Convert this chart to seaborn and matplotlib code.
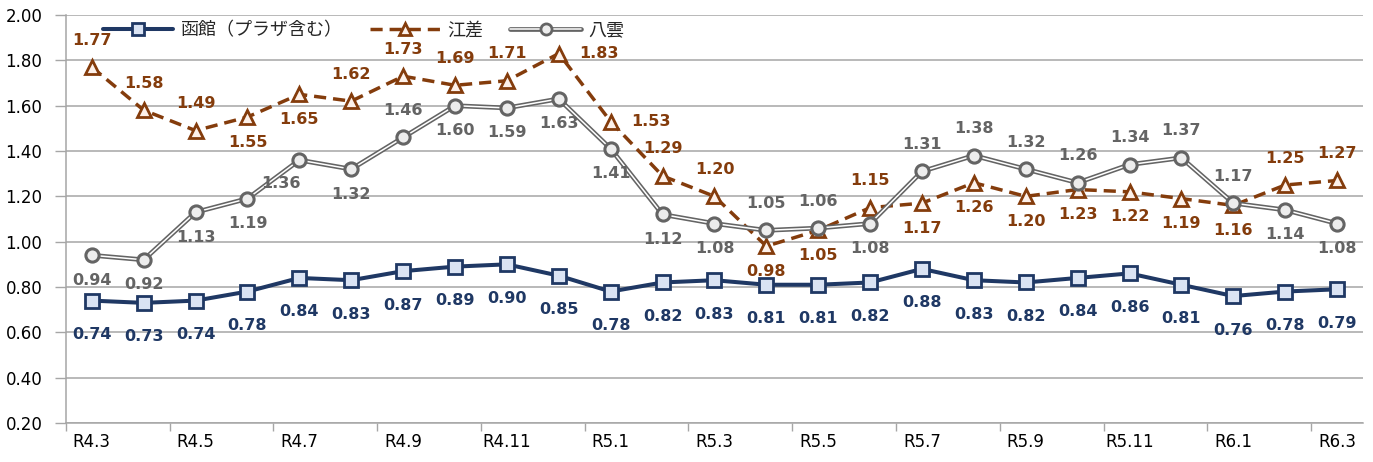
import numpy as np
import pandas as pd
import matplotlib
matplotlib.use("Agg")
import matplotlib.pyplot as plt
import seaborn as sns
from matplotlib.lines import Line2D

# 月（令和）
months = ["R4.3", "R4.4", "R4.5", "R4.6", "R4.7", "R4.8", "R4.9", "R4.10", "R4.11", "R4.12",
          "R5.1", "R5.2", "R5.3", "R5.4", "R5.5", "R5.6", "R5.7", "R5.8", "R5.9", "R5.10",
          "R5.11", "R5.12", "R6.1", "R6.2", "R6.3"]

hakodate = [0.74, 0.73, 0.74, 0.78, 0.84, 0.83, 0.87, 0.89, 0.90, 0.85, 0.78, 0.82, 0.83,
            0.81, 0.81, 0.82, 0.88, 0.83, 0.82, 0.84, 0.86, 0.81, 0.76, 0.78, 0.79]
esashi = [1.77, 1.58, 1.49, 1.55, 1.65, 1.62, 1.73, 1.69, 1.71, 1.83, 1.53, 1.29, 1.20,
          0.98, 1.05, 1.15, 1.17, 1.26, 1.20, 1.23, 1.22, 1.19, 1.16, 1.25, 1.27]
yakumo = [0.94, 0.92, 1.13, 1.19, 1.36, 1.32, 1.46, 1.60, 1.59, 1.63, 1.41, 1.12, 1.08,
          1.05, 1.06, 1.08, 1.31, 1.38, 1.32, 1.26, 1.34, 1.37, 1.17, 1.14, 1.08]

# ラベルの置き場所 (a=上, b=下, r=右, bl=左下)
esashi_pos = ["a", "a", "a", "b", "b", "a", "a", "a", "a", "r", "r", "a", "a",
              "b", "b", "a", "b", "b", "b", "b", "b", "b", "b", "a", "a"]
yakumo_pos = ["b", "b", "b", "b", "bl", "b", "a", "b", "b", "b", "b", "b", "b",
              "a", "a", "b", "a", "a", "a", "a", "a", "a", "a", "b", "b"]
offsets = {"a": (0, 27), "b": (0, -25), "r": (40, 0), "bl": (-18, -23), "nb": (0, -34)}

df = pd.DataFrame({"i": np.arange(len(months)), "month": months,
                   "hakodate": hakodate, "esashi": esashi, "yakumo": yakumo})

NAVY = "#1F3864"
BROWN = "#843C0C"
GRAY = "#646464"
GRID = "#A6A6A6"

sns.set_theme(style="white")
plt.rcParams["font.family"] = ["DejaVu Sans", "Noto Sans CJK JP"]

fig, ax = plt.subplots(figsize=(13.73, 4.62), dpi=100)
fig.subplots_adjust(left=0.048, right=0.9927, bottom=0.0844, top=0.9675)

sns.lineplot(data=df, x="i", y="hakodate", ax=ax, color=NAVY, lw=2.9, marker="s",
             markersize=9.5, markerfacecolor="#DAE3F3", markeredgecolor=NAVY,
             markeredgewidth=2, errorbar=None, zorder=3)
sns.lineplot(data=df, x="i", y="esashi", ax=ax, color=BROWN, lw=2.5, linestyle=(0, (3.5, 2)),
             marker="^", markersize=10, markerfacecolor="#FDF1EA", markeredgecolor=BROWN,
             markeredgewidth=2, errorbar=None, zorder=4)
sns.lineplot(data=df, x="i", y="yakumo", ax=ax, color=GRAY, lw=3.4, errorbar=None, zorder=5)
sns.lineplot(data=df, x="i", y="yakumo", ax=ax, color="white", lw=1.1, marker="o",
             markersize=9.5, markerfacecolor="#EDEDED", markeredgecolor=GRAY,
             markeredgewidth=2.2, errorbar=None, zorder=6)

# データラベル
for i in range(len(months)):
    ax.annotate(f"{hakodate[i]:.2f}", (i, hakodate[i]), textcoords="offset pixels",
                xytext=offsets["nb"], ha="center", va="center", fontsize=11.5,
                fontweight="bold", color=NAVY, zorder=10)
    ax.annotate(f"{esashi[i]:.2f}", (i, esashi[i]), textcoords="offset pixels",
                xytext=offsets[esashi_pos[i]], ha="center", va="center", fontsize=11.5,
                fontweight="bold", color=BROWN, zorder=10)
    ax.annotate(f"{yakumo[i]:.2f}", (i, yakumo[i]), textcoords="offset pixels",
                xytext=offsets[yakumo_pos[i]], ha="center", va="center", fontsize=11.5,
                fontweight="bold", color=GRAY, zorder=10)

ax.set_xlim(-0.5, len(months) - 0.5)
ax.set_ylim(0.2, 2.0)
yt = np.arange(0.2, 2.01, 0.2)
ax.set_yticks(yt)
ax.set_yticklabels([f"{v:.2f}" for v in yt], fontsize=12, color="black")
ax.set_xticks(np.arange(-0.5, len(months), 2))
ax.set_xticklabels([])
ax.set_xticks(np.arange(0, len(months), 2), minor=True)
ax.set_xticklabels(months[::2], minor=True, fontsize=12, color="black")
ax.tick_params(axis="x", which="major", bottom=True, length=6, width=1, color=GRID)
ax.tick_params(axis="x", which="minor", bottom=True, length=0, pad=7)
ax.tick_params(axis="y", left=True, length=8, width=1, color=GRID, pad=9)
ax.set_xlabel("")
ax.set_ylabel("")

ax.yaxis.grid(True, color=GRID, lw=1.1)
ax.xaxis.grid(False)
for s in ["top", "right"]:
    ax.spines[s].set_visible(False)
for s in ["left", "bottom"]:
    ax.spines[s].set_color(GRID)
    ax.spines[s].set_linewidth(1.1)

h1 = Line2D([], [], color=NAVY, lw=2.9, marker="s", markersize=8, markerfacecolor="#DAE3F3",
            markeredgecolor=NAVY, markeredgewidth=2)
h2 = Line2D([], [], color=BROWN, lw=2.5, linestyle=(0, (3.5, 2)), marker="^", markersize=8.5,
            markerfacecolor="#FDF1EA", markeredgecolor=BROWN, markeredgewidth=2)
h3a = Line2D([], [], color=GRAY, lw=3.4)
h3b = Line2D([], [], color="white", lw=1.1, marker="o", markersize=8, markerfacecolor="#EDEDED",
             markeredgecolor=GRAY, markeredgewidth=2)
leg = ax.legend([h1, h2, (h3a, h3b)], ["函館（プラザ含む）", "江差", "八雲"], ncol=3,
                loc="center left", bbox_to_anchor=(0.0285, 0.963), frameon=False,
                borderpad=0, borderaxespad=0, handlelength=3.9, handletextpad=0.4,
                columnspacing=1.5, prop={"family": ["Noto Sans CJK JP"], "size": 13})
for t in leg.get_texts():
    t.set_color("#262626")
leg.set_zorder(20)

plt.savefig("out.png", dpi=100)
